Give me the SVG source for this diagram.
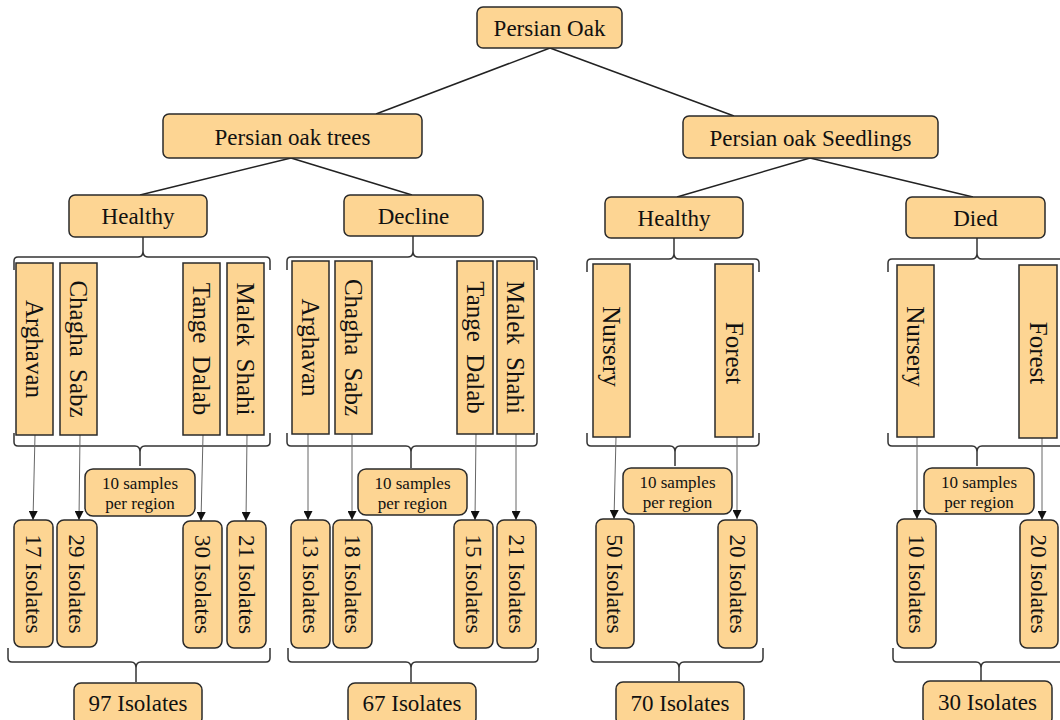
<svg xmlns="http://www.w3.org/2000/svg" width="1060" height="720" viewBox="0 0 1060 720">
<defs>
<style>
.box{fill:#FDD593;stroke:#2a2a2a;stroke-width:1.5}
.t{font-family:"Liberation Serif","Times New Roman",serif;fill:#111;text-anchor:middle}
.lg{font-size:23px}
.rg{font-size:25px;word-spacing:6px}
.iso{font-size:23px}
.sm{font-size:17px}
.con{stroke:#222;stroke-width:1.5;fill:none}
.brace{stroke:#333;stroke-width:1.5;fill:none}
.arr{stroke:#666;stroke-width:1;fill:none;marker-end:url(#ah)}
</style>
<marker id="ah" markerUnits="userSpaceOnUse" markerWidth="9" markerHeight="9" refX="9" refY="4.5" orient="auto">
<path d="M0,0 L9,4.5 L0,9 z" fill="#111"/>
</marker>
</defs>
<rect width="1060" height="720" fill="#fff"/>

<g id="connectors">
<line class="con" x1="550" y1="48" x2="376" y2="114"/>
<line class="con" x1="550" y1="48" x2="734" y2="116"/>
<line class="con" x1="291" y1="158" x2="140" y2="195"/>
<line class="con" x1="291" y1="158" x2="412" y2="195"/>
<line class="con" x1="810" y1="158" x2="677" y2="197"/>
<line class="con" x1="810" y1="158" x2="973" y2="197"/>

<path class="brace" d="M14,270 L14,261 Q14,257 18,257 L138,257 Q143,257 143,251 Q143,257 148,257 L266,257 Q270,257 270,261 L270,270 M143,251 L143,237"/>
<path class="brace" d="M14,433 L14,442 Q14,446 18,446 L135,446 Q140,446 140,452 Q140,446 145,446 L266,446 Q270,446 270,442 L270,433 M140,452 L140,466"/>
<path class="brace" d="M8,648 L8,658 Q8,662 12,662 L131,662 Q136,662 136,668 Q136,662 141,662 L266,662 Q270,662 270,658 L270,648 M136,668 L136,682"/>

<path class="brace" d="M287,270 L287,261 Q287,257 291,257 L408,257 Q413,257 413,251 Q413,257 418,257 L533,257 Q537,257 537,261 L537,270 M413,251 L413,236"/>
<path class="brace" d="M287,433 L287,442 Q287,446 291,446 L406,446 Q411,446 411,452 Q411,446 416,446 L533,446 Q537,446 537,442 L537,433 M411,452 L411,468"/>
<path class="brace" d="M288,648 L288,658 Q288,662 292,662 L406,662 Q411,662 411,668 Q411,662 416,662 L534,662 Q538,662 538,658 L538,648 M411,668 L411,682"/>

<path class="brace" d="M587,272 L587,263 Q587,259 591,259 L669,259 Q674,259 674,253 Q674,259 679,259 L755,259 Q759,259 759,263 L759,272 M674,253 L674,238"/>
<path class="brace" d="M587,433 L587,442 Q587,446 591,446 L670,446 Q675,446 675,452 Q675,446 680,446 L755,446 Q759,446 759,442 L759,433 M675,452 L675,466"/>
<path class="brace" d="M591,648 L591,658 Q591,662 595,662 L674,662 Q679,662 679,668 Q679,662 684,662 L759,662 Q763,662 763,658 L763,648 M679,668 L679,681"/>

<path class="brace" d="M888,272 L888,263 Q888,259 892,259 L972,259 Q977,259 977,253 Q977,259 982,259 L1062,259 Q1066,259 1066,263 L1066,272 M977,253 L977,238"/>
<path class="brace" d="M888,433 L888,442 Q888,446 892,446 L972,446 Q977,446 977,452 Q977,446 982,446 L1062,446 Q1066,446 1066,442 L1066,433 M977,452 L977,466"/>
<path class="brace" d="M893,648 L893,658 Q893,662 897,662 L976,662 Q981,662 981,668 Q981,662 986,662 L1066,662 Q1070,662 1070,658 L1070,648 M981,668 L981,681"/>

<line class="arr" x1="35" y1="435" x2="33" y2="520"/>
<line class="arr" x1="80" y1="435" x2="79" y2="520"/>
<line class="arr" x1="203" y1="435" x2="201" y2="521"/>
<line class="arr" x1="247" y1="435" x2="246" y2="521"/>
<line class="arr" x1="308" y1="434" x2="308" y2="520"/>
<line class="arr" x1="352" y1="434" x2="352" y2="520"/>
<line class="arr" x1="476" y1="434" x2="475" y2="520"/>
<line class="arr" x1="516" y1="434" x2="516" y2="520"/>
<line class="arr" x1="616" y1="437" x2="614" y2="519"/>
<line class="arr" x1="737" y1="437" x2="737" y2="519"/>
<line class="arr" x1="917" y1="437" x2="917" y2="519"/>
<line class="arr" x1="1042" y1="438" x2="1042" y2="520"/>
</g>

<g id="root"><rect class="box" x="477" y="7" width="145" height="41" rx="6"/><text class="t lg" x="549.5" y="36">Persian Oak</text></g>
<g id="trees"><rect class="box" x="163" y="114" width="259" height="44" rx="6"/><text class="t lg" x="292.5" y="145">Persian oak trees</text></g>
<g id="seedlings"><rect class="box" x="683" y="116" width="255" height="42" rx="6"/><text class="t lg" x="810.5" y="146">Persian oak Seedlings</text></g>

<g id="healthy1"><rect class="box" x="69" y="195" width="138" height="42" rx="6"/><text class="t lg" x="138" y="224">Healthy</text></g>
<g id="decline"><rect class="box" x="344" y="195" width="139" height="41" rx="6"/><text class="t lg" x="413.5" y="224">Decline</text></g>
<g id="healthy2"><rect class="box" x="605" y="197" width="138" height="41" rx="6"/><text class="t lg" x="674" y="226">Healthy</text></g>
<g id="died"><rect class="box" x="906" y="197" width="139" height="41" rx="6"/><text class="t lg" x="975.5" y="226">Died</text></g>

<g id="h1-arghavan"><rect class="box" x="16" y="263" width="37" height="172"/><text class="t rg" transform="translate(34.5,349) rotate(90)" y="8.5">Arghavan</text></g>
<g id="h1-chagha"><rect class="box" x="60" y="263" width="37" height="172"/><text class="t rg" transform="translate(78.5,349) rotate(90)" y="8.5">Chagha Sabz</text></g>
<g id="h1-tange"><rect class="box" x="183" y="263" width="37" height="172"/><text class="t rg" transform="translate(201.5,349) rotate(90)" y="8.5">Tange Dalab</text></g>
<g id="h1-malek"><rect class="box" x="227" y="263" width="37" height="172"/><text class="t rg" transform="translate(245.5,349) rotate(90)" y="8.5">Malek Shahi</text></g>

<g id="d-arghavan"><rect class="box" x="292" y="261" width="37" height="173"/><text class="t rg" transform="translate(310.5,347.5) rotate(90)" y="8.5">Arghavan</text></g>
<g id="d-chagha"><rect class="box" x="335" y="261" width="37" height="173"/><text class="t rg" transform="translate(353.5,347.5) rotate(90)" y="8.5">Chagha Sabz</text></g>
<g id="d-tange"><rect class="box" x="457" y="261" width="36" height="173"/><text class="t rg" transform="translate(475,347.5) rotate(90)" y="8.5">Tange Dalab</text></g>
<g id="d-malek"><rect class="box" x="497" y="261" width="37" height="173"/><text class="t rg" transform="translate(515.5,347.5) rotate(90)" y="8.5">Malek Shahi</text></g>

<g id="h2-nursery"><rect class="box" x="593" y="264" width="37" height="173"/><text class="t rg" transform="translate(611.5,346.5) rotate(90)" y="8.5">Nursery</text></g>
<g id="h2-forest"><rect class="box" x="715" y="264" width="38" height="173"/><text class="t rg" transform="translate(734,353) rotate(90)" y="8.5">Forest</text></g>
<g id="died-nursery"><rect class="box" x="897" y="265" width="37" height="172"/><text class="t rg" transform="translate(915.5,346.5) rotate(90)" y="8.5">Nursery</text></g>
<g id="died-forest"><rect class="box" x="1019" y="265" width="38" height="173"/><text class="t rg" transform="translate(1038,353) rotate(90)" y="8.5">Forest</text></g>

<g id="h1-samples"><rect class="box" x="85" y="469" width="110" height="47" rx="8"/><text class="t sm" x="140" y="489">10 samples</text><text class="t sm" x="140" y="509">per region</text></g>
<g id="d-samples"><rect class="box" x="358" y="469" width="109" height="46" rx="8"/><text class="t sm" x="412.5" y="489">10 samples</text><text class="t sm" x="412.5" y="509">per region</text></g>
<g id="h2-samples"><rect class="box" x="623" y="468" width="109" height="46" rx="8"/><text class="t sm" x="677.5" y="488">10 samples</text><text class="t sm" x="677.5" y="508">per region</text></g>
<g id="died-samples"><rect class="box" x="924" y="468" width="110" height="46" rx="8"/><text class="t sm" x="979" y="488">10 samples</text><text class="t sm" x="979" y="508">per region</text></g>

<g id="iso17"><rect class="box" x="14" y="520" width="39" height="127" rx="7"/><text class="t iso" transform="translate(33.5,584) rotate(90)" y="8">17 Isolates</text></g>
<g id="iso29"><rect class="box" x="57" y="520" width="40" height="127" rx="7"/><text class="t iso" transform="translate(77,584) rotate(90)" y="8">29 Isolates</text></g>
<g id="iso30"><rect class="box" x="183" y="521" width="39" height="127" rx="7"/><text class="t iso" transform="translate(202.5,584.5) rotate(90)" y="8">30 Isolates</text></g>
<g id="iso21a"><rect class="box" x="227" y="521" width="39" height="127" rx="7"/><text class="t iso" transform="translate(246.5,584.5) rotate(90)" y="8">21 Isolates</text></g>

<g id="iso13"><rect class="box" x="291" y="520" width="39" height="128" rx="7"/><text class="t iso" transform="translate(310.5,584) rotate(90)" y="8">13 Isolates</text></g>
<g id="iso18"><rect class="box" x="333" y="520" width="39" height="128" rx="7"/><text class="t iso" transform="translate(352.5,584) rotate(90)" y="8">18 Isolates</text></g>
<g id="iso15"><rect class="box" x="454" y="520" width="39" height="128" rx="7"/><text class="t iso" transform="translate(473.5,584) rotate(90)" y="8">15 Isolates</text></g>
<g id="iso21b"><rect class="box" x="497" y="520" width="39" height="128" rx="7"/><text class="t iso" transform="translate(516.5,584) rotate(90)" y="8">21 Isolates</text></g>

<g id="iso50"><rect class="box" x="596" y="519" width="38" height="129" rx="7"/><text class="t iso" transform="translate(615,584) rotate(90)" y="8">50 Isolates</text></g>
<g id="iso20a"><rect class="box" x="718" y="520" width="39" height="128" rx="7"/><text class="t iso" transform="translate(737.5,584) rotate(90)" y="8">20 Isolates</text></g>
<g id="iso10"><rect class="box" x="897" y="519" width="39" height="129" rx="7"/><text class="t iso" transform="translate(916.5,584) rotate(90)" y="8">10 Isolates</text></g>
<g id="iso20b"><rect class="box" x="1020" y="520" width="38" height="128" rx="7"/><text class="t iso" transform="translate(1039,584) rotate(90)" y="8">20 Isolates</text></g>

<g id="total97"><rect class="box" x="74" y="683" width="128" height="42" rx="7"/><text class="t iso" x="138" y="711">97 Isolates</text></g>
<g id="total67"><rect class="box" x="348" y="683" width="128" height="42" rx="7"/><text class="t iso" x="412" y="711">67 Isolates</text></g>
<g id="total70"><rect class="box" x="616" y="682" width="128" height="43" rx="7"/><text class="t iso" x="680" y="711">70 Isolates</text></g>
<g id="total30"><rect class="box" x="923" y="681" width="129" height="44" rx="7"/><text class="t iso" x="987.5" y="710">30 Isolates</text></g>
</svg>
